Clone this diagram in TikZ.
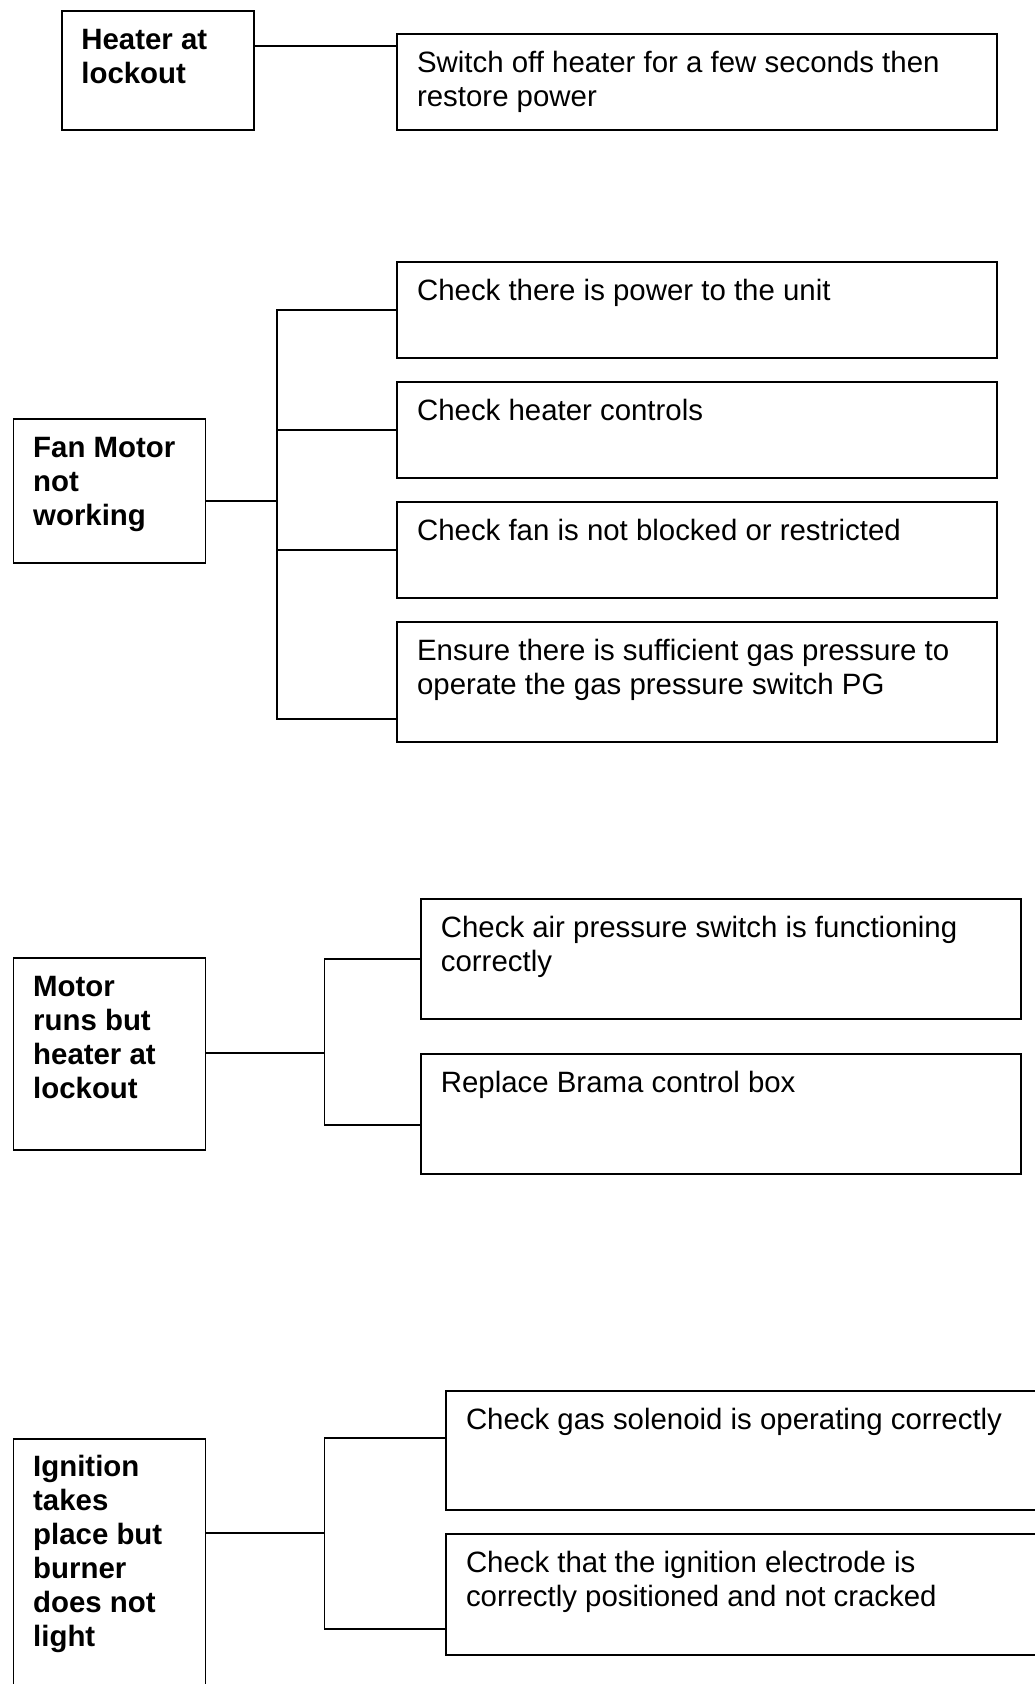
\documentclass[tikz,border=0pt]{standalone}
\usepackage{fontspec}
\setmainfont{Liberation Sans}
\usepackage{tikz}
\newcommand{\textBox}[5]{%%
  %% The frame, hung from its top left corner.
  \node[boxStyle,minimum width=#3pt,minimum height=#4pt] (#1) at (#2) {};
  %% The text, first baseline fixed below that corner.
  \node[textStyle] (#1Text) at ([xshift=20.5pt,yshift=-39pt]#1.north west)
    {\parbox[t]{#3pt}{\raggedright #5}};
}
\newcommand{\faultBox}[5]{%%
  \textBox{#1}{#2}{#3}{#4}{\bfseries #5}
}

\begin{document}
\begin{tikzpicture}[%%
  x=1pt,y=-1pt,%%
  boxStyle/.style={draw,line width=1.8pt,anchor=north west,inner sep=0pt},%%
  lineStyle/.style={-,line width=1.8pt},%%
  textStyle/.style={anchor=base west,inner sep=0pt,font=\fontsize{29.4pt}{34pt}\selectfont}%%
]
\useasboundingbox (0,0) rectangle (1034,1684);
%%
%% Heater at lockout.
\faultBox{heater}{60.7,10}{192}{119}{Heater at\\lockout}
\textBox{switchOff}{396.4,33.3}{600}{96}{Switch off heater for a few seconds then\\restore power}
\coordinate (heaterLink) at ([yshift=-35.7pt]heater.north east);
\draw[lineStyle] (heaterLink) -- (heaterLink -| switchOff.west);
%%
%% Fan motor not working.
\faultBox{fanMotor}{12.5,418}{192}{144}{Fan Motor\\not\\working}
\textBox{power}{396.4,261}{600}{96}{Check there is power to the unit}
\textBox{controls}{396.4,381.3}{600}{96}{Check heater controls}
\textBox{fan}{396.4,501.3}{600}{96}{Check fan is not blocked or restricted}
\textBox{gasPressure}{396.4,621}{600}{120}{Ensure there is sufficient gas pressure to\\operate the gas pressure switch PG}
\coordinate (fanTrunk) at (277,501.3);
\coordinate (gasLink) at ([yshift=24pt]gasPressure.south west);
\draw[lineStyle] (fanMotor.east |- fanTrunk) -- (fanTrunk);
\draw[lineStyle] (power.west) -| (fanTrunk) |- (gasLink);
\draw[lineStyle] (controls.west) -| (fanTrunk);
\draw[lineStyle] (fan.west) -| (fanTrunk);
%%
%% Motor runs but heater at lockout.
\faultBox{motorRuns}{12.5,957.3}{192}{192}{Motor\\runs but\\heater at\\lockout}
\textBox{airSwitch}{420.2,898.3}{600}{120}{Check air pressure switch is functioning\\correctly}
\textBox{brama}{420.2,1053.3}{600}{120}{Replace Brama control box}
\coordinate (motorTrunk) at (324.5,1053.3);
\coordinate (bramaLink) at ([yshift=-72pt]brama.north west);
\draw[lineStyle] (motorRuns.east |- motorTrunk) -- (motorTrunk);
\draw[lineStyle] (airSwitch.west) -| (motorTrunk) |- (bramaLink);
%%
%% Ignition takes place but burner does not light.
\faultBox{ignition}{12.5,1437.7}{192}{300}{Ignition\\takes\\place but\\burner\\does not\\light}
\textBox{solenoid}{445.3,1390}{600}{119.3}{Check gas solenoid is operating correctly}
\textBox{electrode}{445.3,1533.3}{600}{120.7}{Check that the ignition electrode is\\correctly positioned and not cracked}
\coordinate (ignitionTrunk) at (324.5,1533.3);
\coordinate (solenoidLink) at ([yshift=-47.7pt]solenoid.north west);
\coordinate (electrodeLink) at ([yshift=-96pt]electrode.north west);
\draw[lineStyle] (ignition.east |- ignitionTrunk) -- (ignitionTrunk);
\draw[lineStyle] (solenoidLink) -| (ignitionTrunk) |- (electrodeLink);
\end{tikzpicture}
\end{document}
